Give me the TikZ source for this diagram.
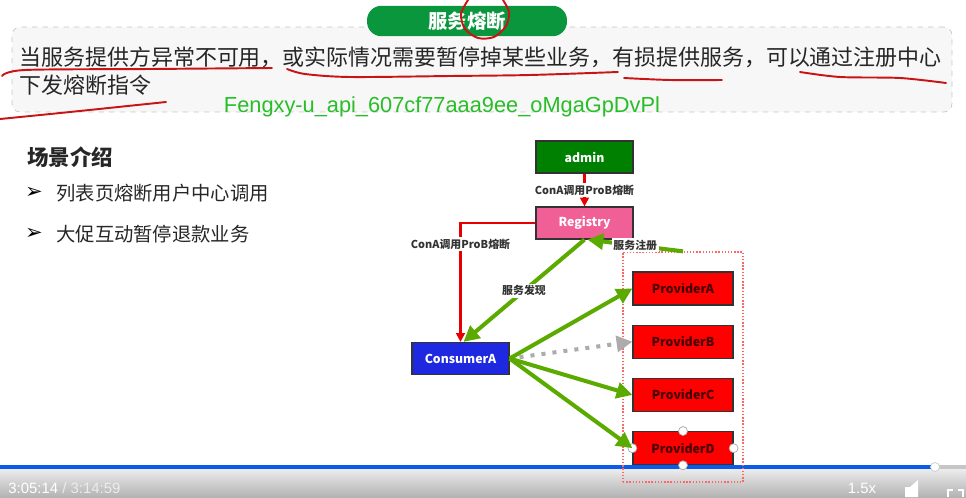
\documentclass[tikz,border=0pt]{standalone}
\usepackage{fontspec}
\setmainfont{Liberation Sans}
\newfontfamily\cjk{Noto Sans CJK SC}
\newfontfamily\dingfont{DejaVu Sans}
\usetikzlibrary{arrows.meta,positioning}

\definecolor{pillgreen}{RGB}{10,150,60}
\definecolor{admingreen}{RGB}{0,128,0}
\definecolor{regpink}{RGB}{240,96,150}
\definecolor{consblue}{RGB}{30,40,225}
\definecolor{provred}{RGB}{255,0,0}
\definecolor{provtext}{RGB}{70,0,0}
\definecolor{linkgreen}{RGB}{90,170,0}
\definecolor{callred}{RGB}{230,0,0}
\definecolor{markgreen}{RGB}{40,190,40}
\definecolor{penred}{RGB}{200,20,20}
\definecolor{barblue}{RGB}{10,90,235}

\begin{document}
\begin{tikzpicture}[
    x=0.02cm, y=-0.02cm,
    node distance=0.38cm,
    box/.style={rectangle, draw=black!80, line width=0.7pt, minimum width=1.94cm, minimum height=0.64cm, inner sep=0pt, font=\cjk\bfseries\fontsize{7}{8}\selectfont},
    greenbox/.style={box, fill=admingreen, text=white},
    pinkbox/.style={box, fill=regpink, text=white},
    bluebox/.style={box, fill=consblue, text=white},
    redbox/.style={box, fill=provred, text=provtext, minimum width=2cm, minimum height=0.66cm},
    groupbox/.style={rectangle, draw=red!60, densely dotted, line width=0.8pt, minimum width=2.4cm, minimum height=4.6cm},
    tag/.style={font=\cjk\bfseries\fontsize{6.2}{7}\selectfont, text=black!80, fill=white, inner sep=1pt},
    callarrow/.style={-{Triangle[length=5pt,width=5pt]}, line width=1.2pt, color=callred},
    linkarrow/.style={-{Triangle[length=9pt,width=9pt]}, line width=2.3pt, color=linkgreen},
    idlearrow/.style={-{Triangle[length=9pt,width=9pt]}, line width=2.3pt, color=gray!65, dash pattern=on 2.3pt off 4pt},
    pen/.style={penred, line width=1.1pt, line cap=round, line join=round},
    plain/.style={font=\cjk\fontsize{11}{13}\selectfont, text=black!85, inner sep=0pt, anchor=west}
]
    \useasboundingbox (0,0) rectangle (966,497);
    \clip (0,0) rectangle (966,497);

    % player strip at the bottom
    \shade[top color=gray!15, bottom color=gray!60] (0,469) rectangle (966,497);
    \fill[barblue] (0,465) rectangle (935,469);
    \fill[gray!45] (935,465) rectangle (966,469);
    \filldraw[fill=white, draw=gray!40] (935,467) circle (0.09cm);
    \node[anchor=west, text=white, font=\fontsize{8.5}{10}\selectfont, inner sep=0pt] (clock) at (8,488) {3:05:14 \textcolor{white!85!gray}{/ 3:14:59}};
    \node[text=white, font=\fontsize{8.5}{10}\selectfont, inner sep=0pt] (speed) at (862,488) {1.5x};
    \fill[white] (905,487) rectangle (910,497) (910,487) -- (918,480) -- (918,497) -- (910,497) -- cycle;
    \draw[white, line width=1.5pt] (948,497) -- (948,490) -- (953,490) (958,490) -- (963,490) -- (963,497);

    % heading
    \node[rectangle, rounded corners=0.16cm, draw=gray!45, dashed, fill=gray!6, minimum width=18.8cm, minimum height=1.7cm] (note) at (482,69.5) {};
    \node[rectangle, rounded corners=0.29cm, fill=pillgreen, minimum width=4cm, minimum height=0.58cm, text=white, font=\cjk\bfseries\fontsize{11}{13}\selectfont] (title) at (467,21) {服务熔断};
    \node[plain, font=\cjk\fontsize{12.5}{15}\selectfont] (line1) at (19,57) {当服务提供方异常不可用，或实际情况需要暂停掉某些业务，有损提供服务，可以通过注册中心};
    \node[plain, font=\cjk\fontsize{12.5}{15}\selectfont] (line2) at (19,85) {下发熔断指令};
    \node[text=markgreen, font=\fontsize{12.4}{14}\selectfont, inner sep=0pt] (mark) at (442,107) {Fengxy-u\_api\_607cf77aaa9ee\_oMgaGpDvPl};

    % scenes
    \node[plain, font=\cjk\bfseries\fontsize{12.2}{14}\selectfont] (scene) at (27,157) {场景介绍};
    \node[plain] (item1) at (56,193) {列表页熔断用户中心调用};
    \node[plain] (item2) at (56,234) {大促互动暂停退款业务};
    \node[font=\dingfont\fontsize{12}{13}\selectfont, inner sep=0pt] (dot1) at (34,193) {➢};
    \node[font=\dingfont\fontsize{12}{13}\selectfont, inner sep=0pt] (dot2) at (34,234) {➢};

    % Nodes
    \node[greenbox] (admin) at (584.5,157) {admin};
    \node[pinkbox] (reg) at (584.5,223) {Registry};
    \node[bluebox] (cons) at (460.5,358.5) {ConsumerA};
    \node[groupbox] (grp) at (683,367) {};
    \node[redbox] (pa) at (683,288.5) {ProviderA};
    \node[redbox, below=of pa] (pb) {ProviderB};
    \node[redbox, below=of pb] (pc) {ProviderC};
    \node[redbox, below=of pc] (pd) {ProviderD};
    \foreach \a in {north,south,east,west}
        \filldraw[fill=white, draw=gray!70, line width=0.4pt] (pd.\a) circle (0.09cm);

    % Arrows
    \draw[callarrow] (admin) -- node[tag] {ConA调用ProB熔断} (reg);
    \draw[callarrow] (reg.west) -| node[tag, pos=0.59] {ConA调用ProB熔断} (cons.north);
    \draw[linkarrow] (reg.south) -- node[tag] {服务发现} ([xshift=0.06cm]cons.north);
    \draw[linkarrow] (grp.north) -- node[tag] {服务注册} ([xshift=0.06cm]reg.south);
    \draw[linkarrow] (cons.east) -- (pa.west);
    \draw[idlearrow, shorten <=0.2cm] (cons.east) -- (pb.west);
    \draw[linkarrow] (cons.east) -- (pc.west);
    \draw[linkarrow] (cons.east) -- (pd.west);

    % pen marks
    \draw[pen] plot[smooth] coordinates {(468,0) (461,14) (465,29) (478,38) (494,37) (506,26) (509,12) (503,0)};
    \draw[pen] plot[smooth] coordinates {(2,76) (25,70) (150,69) (272,68)};
    \draw[pen] plot[smooth] coordinates {(287,69) (305,74) (350,77) (450,76) (530,75) (618,72)};
    \draw[pen] plot[smooth] coordinates {(624,78) (670,80) (722,80)};
    \draw[pen] plot[smooth] coordinates {(800,72) (840,77) (900,78) (946,83)};
    \draw[pen] plot[smooth] coordinates {(0,119) (70,112) (166,102)};
\end{tikzpicture}
\end{document}
